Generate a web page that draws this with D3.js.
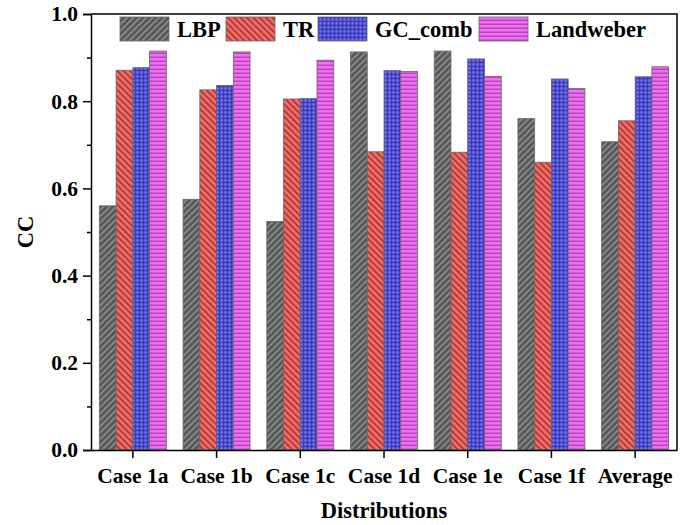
<!DOCTYPE html>
<html>
<head>
<meta charset="utf-8">
<script src="https://cdn.jsdelivr.net/npm/d3@7"></script>
<style>
  html, body { margin: 0; padding: 0; background: #fff; }
  svg { display: block; }
  text { font-family: "Liberation Serif", "Times New Roman", serif; font-weight: bold; fill: #000; }
</style>
</head>
<body>
<svg id="chart" width="691" height="525"></svg>
<script>
// Correlation coefficient (CC) of each reconstruction method per distribution case
const categories = ["Case 1a", "Case 1b", "Case 1c", "Case 1d", "Case 1e", "Case 1f", "Average"];
const seriesNames = ["LBP", "TR", "GC_comb", "Landweber"];
const lbp       = [0.560, 0.575, 0.524, 0.913, 0.915, 0.760, 0.707];
const tr        = [0.871, 0.826, 0.805, 0.684, 0.683, 0.660, 0.755];
const gcComb    = [0.877, 0.836, 0.806, 0.870, 0.897, 0.851, 0.856];
const landweber = [0.915, 0.913, 0.894, 0.868, 0.857, 0.829, 0.879];
const yTicks = [0.0, 0.2, 0.4, 0.6, 0.8, 1.0];

const seriesValues = [lbp, tr, gcComb, landweber];

const svg = d3.select("#chart");
const margin = { left: 91, right: 14, top: 14, bottom: 75 };
const W = 691, H = 525;
const plotW = W - margin.left - margin.right;
const plotH = H - margin.top - margin.bottom;

// Fill patterns for each series
const defs = svg.append("defs");
function stripePattern(id, bg, fg, size, angle, sw) {
  const p = defs.append("pattern").attr("id", id)
    .attr("patternUnits", "userSpaceOnUse")
    .attr("width", size).attr("height", size)
    .attr("patternTransform", `rotate(${angle})`);
  p.append("rect").attr("width", size).attr("height", size).attr("fill", bg);
  p.append("rect").attr("width", sw).attr("height", size).attr("fill", fg);
}
stripePattern("pat-lbp", "#555555", "#878787", 4.5, 45, 2);
stripePattern("pat-tr", "#f06c66", "#a83434", 4.5, -45, 1.6);
// horizontal stripes
(function () {
  const p = defs.append("pattern").attr("id", "pat-lw")
    .attr("patternUnits", "userSpaceOnUse").attr("width", 4).attr("height", 4);
  p.append("rect").attr("width", 4).attr("height", 4).attr("fill", "#f070f0");
  p.append("rect").attr("y", 2.5).attr("width", 4).attr("height", 1.5).attr("fill", "#b845c0");
})();
// dotted grid
(function () {
  const p = defs.append("pattern").attr("id", "pat-gc")
    .attr("patternUnits", "userSpaceOnUse").attr("width", 4).attr("height", 4);
  p.append("rect").attr("width", 4).attr("height", 4).attr("fill", "#3c3cb8");
  p.append("circle").attr("cx", 2.5).attr("cy", 2.5).attr("r", 1.4).attr("fill", "#7070f0");
})();
const fills = ["url(#pat-lbp)", "url(#pat-tr)", "url(#pat-gc)", "url(#pat-lw)"];

const g = svg.append("g").attr("transform", `translate(${margin.left},${margin.top})`);

const x0 = d3.scaleBand().domain(categories).range([0, plotW]).paddingInner(0.2).paddingOuter(0.1);
const x1 = d3.scaleBand().domain(seriesNames).range([0, x0.bandwidth()]);
const y = d3.scaleLinear().domain([0, 1]).range([plotH, 0]);

// Bars
seriesNames.forEach((name, si) => {
  g.append("g").selectAll("rect")
    .data(categories.map((c, i) => ({ c, v: seriesValues[si][i] })))
    .join("rect")
    .attr("x", d => x0(d.c) + x1(name))
    .attr("y", d => y(d.v))
    .attr("width", x1.bandwidth())
    .attr("height", d => y(0) - y(d.v))
    .attr("fill", fills[si])
    .attr("stroke", "#666")
    .attr("stroke-width", 0.8);
});

// Frame (top and right)
g.append("path")
  .attr("d", `M0,0H${plotW}V${plotH}`)
  .attr("fill", "none").attr("stroke", "#000").attr("stroke-width", 1.5);

// Y axis with minor ticks
const yAxis = g.append("g").call(
  d3.axisLeft(y).tickValues(yTicks).tickFormat(d3.format(".1f")).tickSize(8).tickPadding(5)
);
yAxis.selectAll("text").style("font-size", "21.5px");
yAxis.select(".domain").attr("stroke-width", 1.5);
yAxis.selectAll(".tick line").attr("stroke-width", 1.5);
g.append("g").call(
  d3.axisLeft(y).tickValues(d3.range(0.1, 1.0, 0.2)).tickFormat("").tickSize(4)
).call(a => a.select(".domain").remove())
 .selectAll(".tick line").attr("stroke-width", 1.5);

// X axis
const xAxis = g.append("g").attr("transform", `translate(0,${plotH})`)
  .call(d3.axisBottom(x0).tickSize(8).tickPadding(10).tickSizeOuter(0));
xAxis.selectAll("text").style("font-size", "21.5px");
xAxis.select(".domain").attr("stroke-width", 1.5);
xAxis.selectAll(".tick line").attr("stroke-width", 1.5);

// Axis titles
svg.append("text")
  .attr("transform", `translate(33,${margin.top + plotH / 2}) rotate(-90)`)
  .attr("text-anchor", "middle")
  .style("font-size", "22.5px")
  .text("CC");
svg.append("text")
  .attr("x", margin.left + plotW / 2)
  .attr("y", 518)
  .attr("text-anchor", "middle")
  .style("font-size", "22.5px")
  .text("Distributions");

// Legend
const legendX = [120, 226, 318, 479];
const legend = svg.append("g");
seriesNames.forEach((name, i) => {
  const lg = legend.append("g").attr("transform", `translate(${legendX[i]},17)`);
  lg.append("rect").attr("width", 49).attr("height", 24)
    .attr("fill", fills[i]).attr("stroke", "#666").attr("stroke-width", 0.8);
  lg.append("text").attr("x", 57).attr("y", 20)
    .style("font-size", "22.5px").text(name);
});
</script>
</body>
</html>
